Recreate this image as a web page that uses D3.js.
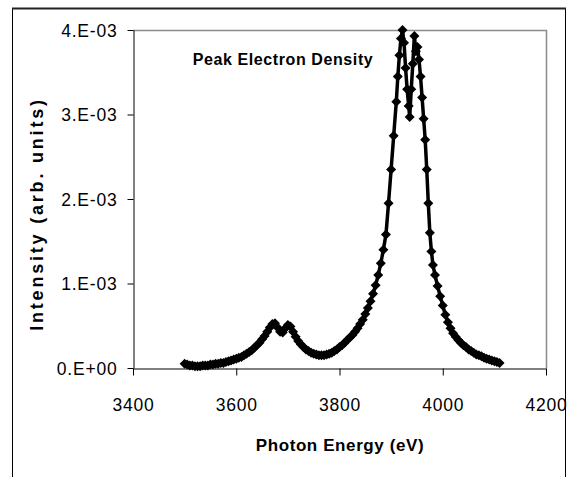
<!DOCTYPE html>
<html>
<head>
<meta charset="utf-8">
<script src="https://cdn.jsdelivr.net/npm/d3@7"></script>
<style>
  body { margin: 0; background: #fff; }
  text { font-family: "Liberation Sans", Arial, sans-serif; fill: #000; }
</style>
</head>
<body>
<div id="chart"></div>
<script>
// Data (intensity in units of 1E-03)
const energy = [
  3500, 3505, 3510, 3515, 3520, 3525, 3530, 3535, 3540, 3545,
  3550, 3555, 3560, 3565, 3570, 3575, 3580, 3585, 3590, 3595,
  3600, 3605, 3610, 3615, 3620, 3625, 3630, 3635, 3640, 3645,
  3650, 3655, 3660, 3665, 3670, 3675, 3680, 3685, 3690, 3695,
  3700, 3705, 3710, 3715, 3720, 3725, 3730, 3735, 3740, 3745,
  3750, 3755, 3760, 3765, 3770, 3775, 3780, 3785, 3790, 3795,
  3800, 3805, 3810, 3815, 3820, 3825, 3830, 3835, 3840, 3845,
  3850, 3855, 3860, 3865, 3870, 3875, 3880, 3885, 3890, 3895,
  3900, 3905, 3910, 3913, 3916, 3919, 3922, 3925, 3928, 3931,
  3934, 3936, 3939, 3942, 3945, 3948, 3951, 3954, 3957, 3960,
  3963, 3966, 3969, 3972, 3975, 3978, 3981, 3985, 3990, 3995,
  4000, 4005, 4010, 4015, 4020, 4025, 4030, 4035, 4040, 4045,
  4050, 4055, 4060, 4065, 4070, 4075, 4080, 4085, 4090, 4095,
  4100, 4105, 4110
];
const intensity = [
  0.05, 0.04, 0.03, 0.03, 0.02, 0.02, 0.02, 0.03, 0.03, 0.03,
  0.04, 0.04, 0.05, 0.05, 0.06, 0.06, 0.07, 0.08, 0.09, 0.10,
  0.11, 0.12, 0.13, 0.15, 0.17, 0.19, 0.21, 0.24, 0.27, 0.30,
  0.34, 0.38, 0.43, 0.48, 0.52, 0.53, 0.48, 0.43, 0.42, 0.47,
  0.51, 0.49, 0.43, 0.37, 0.32, 0.28, 0.25, 0.22, 0.20, 0.18,
  0.17, 0.16, 0.15, 0.15, 0.15, 0.16, 0.17, 0.18, 0.20, 0.22,
  0.25, 0.27, 0.30, 0.33, 0.36, 0.39, 0.43, 0.47, 0.52, 0.57,
  0.64, 0.71, 0.79, 0.88, 0.98, 1.10, 1.24, 1.40, 1.58, 1.95,
  2.35, 2.75, 3.15, 3.45, 3.70, 3.90, 4.00, 3.85, 3.55, 3.30,
  3.10, 2.97, 3.30, 3.60, 3.93, 3.75, 3.80, 3.65, 3.45, 3.20,
  2.95, 2.70, 2.35, 1.95, 1.60, 1.38, 1.22, 1.10, 0.97, 0.85,
  0.74, 0.63, 0.54, 0.47, 0.41, 0.37, 0.33, 0.30, 0.27, 0.25,
  0.22, 0.20, 0.18, 0.16, 0.15, 0.14, 0.12, 0.11, 0.10, 0.09,
  0.08, 0.07, 0.06
];
const xTicks = [3400, 3600, 3800, 4000, 4200];
const yTicks = [0, 1, 2, 3, 4];
const yTickLabels = ["0.E+00", "1.E-03", "2.E-03", "3.E-03", "4.E-03"];

const width = 575, height = 477;
const plot = { left: 133, top: 30, right: 546, bottom: 368 };

const svg = d3.select("#chart").append("svg")
  .attr("width", width)
  .attr("height", height);

// outer chart frame (runs off the bottom edge)
svg.append("rect")
  .attr("x", 12.5).attr("y", 8.5)
  .attr("width", 553).attr("height", 490)
  .attr("fill", "none")
  .attr("stroke", "#000")
  .attr("stroke-width", 1);
svg.append("line")
  .attr("x1", 12).attr("x2", 566)
  .attr("y1", 8.5).attr("y2", 8.5)
  .attr("stroke", "#222").attr("stroke-width", 2);

const x = d3.scaleLinear().domain([3400, 4200]).range([plot.left, plot.right]);
const y = d3.scaleLinear().domain([0, 4]).range([plot.bottom, plot.top]);

// plot area border (top + right in gray)
svg.append("path")
  .attr("d", `M${plot.left},${plot.top + 0.5}H${plot.right + 0.5}V${plot.bottom}`)
  .attr("fill", "none")
  .attr("stroke", "#8c8c8c")
  .attr("stroke-width", 1.5);

// axes
const xAxis = svg.append("g")
  .attr("transform", `translate(0,${plot.bottom + 0.5})`)
  .call(d3.axisBottom(x).tickValues(xTicks).tickSize(7).tickSizeOuter(0).tickFormat(d3.format("d")));
const yAxis = svg.append("g")
  .attr("transform", `translate(${plot.left + 0.5},0)`)
  .call(d3.axisLeft(y).tickValues(yTicks).tickSize(6).tickSizeOuter(0)
    .tickFormat((d, i) => yTickLabels[i]));

[xAxis, yAxis].forEach(g => {
  g.select(".domain").attr("stroke", "#000");
  g.selectAll(".tick line").attr("stroke", "#000");
  g.selectAll(".tick text")
    .attr("font-family", "'Liberation Sans', Arial, sans-serif")
    .attr("font-size", 17.5)
    .attr("letter-spacing", "0.8px")
    .attr("fill", "#000");
});
xAxis.selectAll(".tick text").attr("dy", 0).attr("y", 42);
yAxis.selectAll(".tick text").attr("x", -16).attr("dy", "0.36em");

// data line + diamond markers
const line = d3.line().x(d => x(d[0])).y(d => y(d[1]));
const pts = energy.map((e, i) => [e, intensity[i]]);

svg.append("path")
  .datum(pts)
  .attr("d", line)
  .attr("fill", "none")
  .attr("stroke", "#000")
  .attr("stroke-width", 3.5)
  .attr("stroke-linejoin", "round");

const r = 5;
svg.append("g").selectAll("path")
  .data(pts)
  .enter().append("path")
  .attr("transform", d => `translate(${x(d[0])},${y(d[1])})`)
  .attr("d", `M0,${-r}L${r},0L0,${r}L${-r},0Z`)
  .attr("fill", "#000");

// titles
svg.append("text")
  .attr("x", 283).attr("y", 65)
  .attr("text-anchor", "middle")
  .attr("font-weight", "bold")
  .attr("font-size", 16)
  .attr("letter-spacing", "0.6px")
  .text("Peak Electron Density");

svg.append("text")
  .attr("x", 340).attr("y", 451)
  .attr("text-anchor", "middle")
  .attr("font-weight", "bold")
  .attr("font-size", 17)
  .attr("letter-spacing", "0.6px")
  .text("Photon Energy (eV)");

svg.append("text")
  .attr("transform", "translate(43,214) rotate(-90)")
  .attr("text-anchor", "middle")
  .attr("font-weight", "bold")
  .attr("font-size", 18)
  .attr("letter-spacing", "2.8px")
  .text("Intensity (arb. units)");
</script>
</body>
</html>
